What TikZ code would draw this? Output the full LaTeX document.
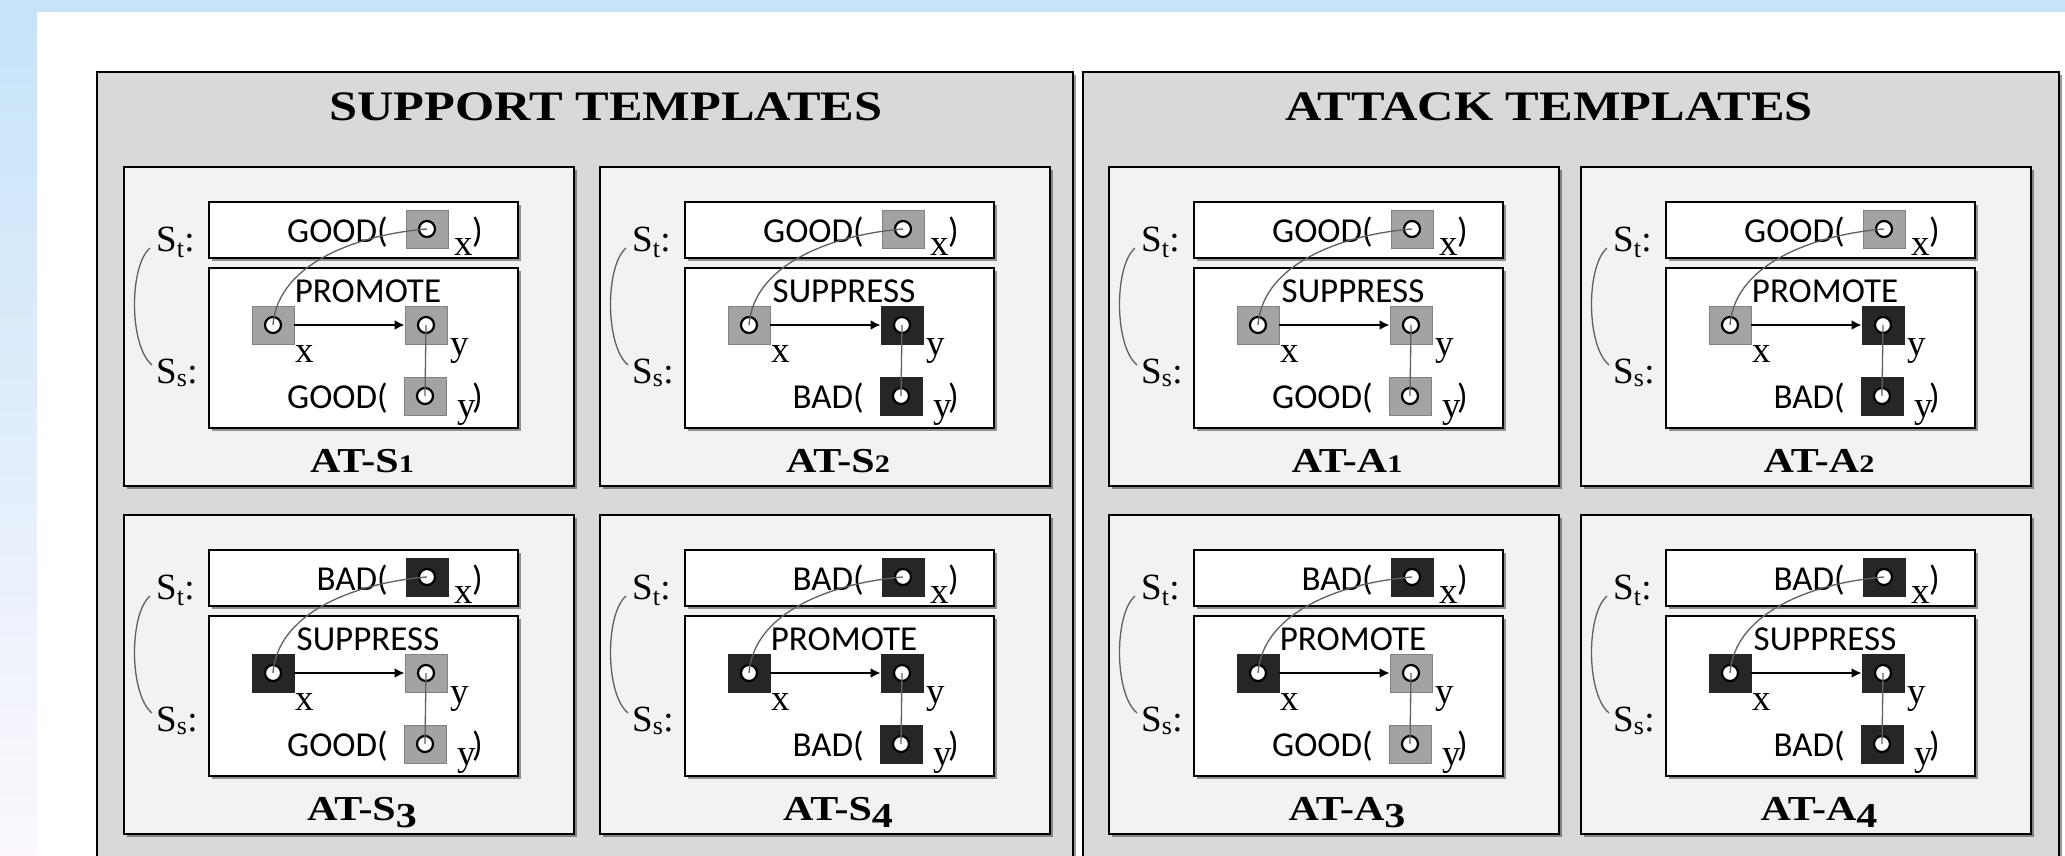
\documentclass[tikz,border=0pt]{standalone}
\usepackage{fontspec}
\usepackage{graphicx}
\setmainfont{Liberation Serif}
\newfontfamily\calib{Carlito}
\newfontfamily\tms{Liberation Serif}
\usetikzlibrary{arrows.meta,shadows}
\definecolor{panelgray}{HTML}{D9D9D9}
\definecolor{boxgray}{HTML}{F2F2F2}
\definecolor{sqgray}{HTML}{A3A3A3}
\definecolor{sqblack}{HTML}{262626}
\definecolor{skyA}{HTML}{C6E3F9}
\definecolor{skyM}{HTML}{DCEEFB}
\definecolor{skyB}{HTML}{FCF8FD}
\definecolor{lncol}{HTML}{606060}
\newcommand\osone[1]{\scalebox{0.72}{#1}}
\newcommand\osthree[1]{\raisebox{-0.21em}{#1}}
\tikzset{
 shd/.style={drop shadow={shadow xshift=2.5pt,shadow yshift=-2.5pt,fill=black,opacity=0.4}},
 panel/.style={rectangle, draw=black, line width=2.2pt, fill=panelgray, inner sep=0pt, anchor=north west, shd},
 tbox/.style={rectangle, draw=black, line width=2.2pt, fill=boxgray, inner sep=0pt, anchor=north west, shd, minimum width=450pt, minimum height=319pt},
 ibox/.style={rectangle, draw=black, line width=2.4pt, fill=white, inner sep=0pt, anchor=north west, shd, minimum width=309pt},
 gsq/.style={rectangle, fill=sqgray, draw=sqgray!80!black, line width=0.8pt, minimum width=42pt, minimum height=38pt, inner sep=0pt},
 bsq/.style={gsq, fill=sqblack, draw=sqblack},
 dotc/.style={circle, fill=white, draw=black, line width=2.2pt, minimum size=16pt, inner sep=0pt},
 sanst/.style={inner sep=0pt, font=\calib\fontsize{35}{40}\selectfont},
 serift/.style={inner sep=0pt, font=\tms\fontsize{37}{40}\selectfont},
 labt/.style={inner sep=0pt, font=\tms\bfseries\fontsize{35}{40}\selectfont},
 titlet/.style={inner sep=0pt, font=\tms\bfseries\fontsize{42}{48}\selectfont},
 thinln/.style={draw=lncol, line width=1.3pt},
 arrln/.style={draw=black, line width=2.6pt, -{Latex[length=10pt,width=10pt]}},
}
% #1 prefix, #2 #3 shift, #4 top word, #5 x style, #6 relation, #7 y style, #8 bottom word, #9 label
\newcommand\tmpl[9]{%
\begin{scope}[shift={(#2,#3)}]
 \node[tbox] (#1box) at (0,0) {};
 \node[ibox, minimum height=56pt] (#1top) at (85,35) {};
 \node[ibox, minimum height=160pt] (#1bot) at (85,101) {};
 \node[#5] (#1tx) at (304,63) {};
 \node[#5] (#1nx) at (150,159) {};
 \node[#7] (#1ny) at (303,159) {};
 \node[#7] (#1by) at (302,230) {};
 \node[dotc] (#1ctx) at (#1tx.center) {};
 \node[dotc] (#1cnx) at (#1nx.center) {};
 \node[dotc] (#1cny) at (#1ny.center) {};
 \node[dotc] (#1cby) at (#1by.center) {};
 \node[sanst, anchor=base east] (#1tw) at (265,76) {#4(};
 \node[serift, anchor=base west] (#1tsub) at (331,89) {x};
 \node[sanst, anchor=base west] (#1tp) at (349,76) {)};
 \node[sanst, anchor=base] (#1rel) at (245,136) {#6};
 \node[serift, anchor=base west] (#1lx) at (172,196) {x};
 \node[serift, anchor=base west] (#1ly) at (327,189) {y};
 \node[sanst, anchor=base east] (#1bw) at (265,242) {#8(};
 \node[serift, anchor=base west] (#1bsub) at (334,251) {y};
 \node[sanst, anchor=base west] (#1bp) at (349,242) {)};
 \node[serift, anchor=base west] (#1st) at (33,85) {S\textsubscript{t}:};
 \node[serift, anchor=base west] (#1ss) at (33,217) {S\textsubscript{s}:};
 \node[labt, anchor=base] (#1lab) at (239,306) {\scalebox{1.2}[1]{#9}};
 \coordinate (#1a1) at (27,82);
 \coordinate (#1a2) at (29,199);
 \draw[thinln] (#1a1) .. controls (6,100) and (6,180) .. (#1a2);
 \draw[arrln] (#1nx.east) -- (#1ny.west);
 \draw[thinln] (#1ctx.center) .. controls +(-64,5) and +(5,-64) .. (#1cnx.center);
 \draw[thinln] (#1cny.center) -- (#1cby.center);
\end{scope}}

\begin{document}
\begin{tikzpicture}[x=1pt,y=-1pt]
\useasboundingbox (0,0) rectangle (2065,856);
\clip (0,0) rectangle (2065,856);
\fill[white] (0,0) rectangle (2065,856);
\fill[skyA] (0,0) rectangle (2065,12);
\shade[top color=skyA, middle color=skyM, bottom color=skyB] (0,12) rectangle (37,856);
\node[panel, minimum width=976pt, minimum height=820pt] (sp) at (96,71) {};
\node[panel, minimum width=976pt, minimum height=820pt] (ap) at (1082,71) {};
\node[titlet, anchor=base] (spt) at (606,121) {\scalebox{1.2}[1]{SUPPORT TEMPLATES}};
\node[titlet, anchor=base] (apt) at (1549,121) {\scalebox{1.2}[1]{ATTACK TEMPLATES}};
\tmpl{s1}{123}{166}{GOOD}{gsq}{PROMOTE}{gsq}{GOOD}{AT-S\osone{1}}
\tmpl{s2}{599}{166}{GOOD}{gsq}{SUPPRESS}{bsq}{BAD}{AT-S\osone{2}}
\tmpl{s3}{123}{514}{BAD}{bsq}{SUPPRESS}{gsq}{GOOD}{AT-S\osthree{3}}
\tmpl{s4}{599}{514}{BAD}{bsq}{PROMOTE}{bsq}{BAD}{AT-S\osthree{4}}
\tmpl{a1}{1108}{166}{GOOD}{gsq}{SUPPRESS}{gsq}{GOOD}{AT-A\osone{1}}
\tmpl{a2}{1580}{166}{GOOD}{gsq}{PROMOTE}{bsq}{BAD}{AT-A\osone{2}}
\tmpl{a3}{1108}{514}{BAD}{bsq}{PROMOTE}{gsq}{GOOD}{AT-A\osthree{3}}
\tmpl{a4}{1580}{514}{BAD}{bsq}{SUPPRESS}{bsq}{BAD}{AT-A\osthree{4}}
\end{tikzpicture}
\end{document}
